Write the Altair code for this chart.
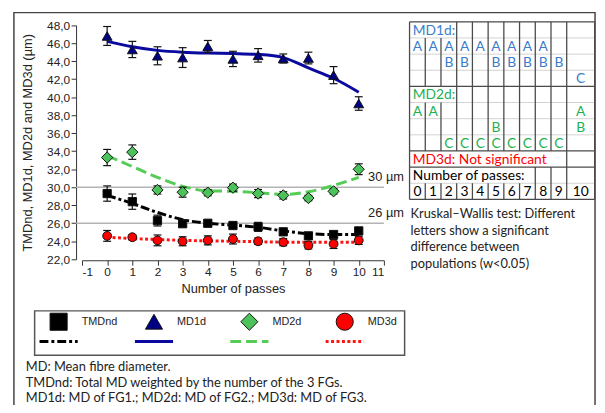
import altair as alt
import pandas as pd

# ---------------- data ----------------
passes = list(range(11))
series = ["TMDnd", "MD1d", "MD2d", "MD3d"]

tmdnd_mean = [29.3, 28.4, 26.3, 25.95, 26.0, 25.75, 25.6, 25.05, 24.6, 24.75, 25.15]
tmdnd_err = [0.85, 0.85, 0.6, 0.35, 0.3, 0.35, 0.5, 0.35, 0.3, 0.35, 0.3]
tmdnd_fit = [29.1, 28.2, 27.2, 26.4, 26.0, 25.8, 25.55, 25.15, 24.85, 24.75, 24.75]

md1d_mean = [46.8, 45.3, 44.6, 44.4, 45.65, 44.25, 44.65, 44.3, 44.35, 42.45, 39.3]
md1d_err = [1.05, 0.9, 1.0, 1.1, 0.65, 0.85, 0.75, 0.5, 0.65, 0.95, 0.75]
md1d_fit = [46.2, 45.6, 45.2, 45.0, 44.9, 44.85, 44.75, 44.4, 43.25, 42.1, 40.55]

md2d_mean = [33.3, 33.9, 29.7, 29.45, 29.4, 29.95, 29.3, 29.1, 28.8, 29.55, 32.0]
md2d_err = [0.9, 0.8, 0.45, 0.55, 0.35, 0.4, 0.45, 0.4, 0.3, 0.3, 0.6]
md2d_fit = [33.5, 32.3, 31.1, 30.1, 29.6, 29.55, 29.4, 29.2, 29.5, 30.2, 31.1]

md3d_mean = [24.6, 24.45, 24.1, 24.0, 24.1, 24.25, 24.0, 23.9, 23.55, 23.7, 24.1]
md3d_err = [0.6, 0.3, 0.6, 0.5, 0.5, 0.55, 0.35, 0.4, 0.4, 0.5, 0.45]
md3d_fit = [24.45, 24.3, 24.2, 24.1, 24.05, 24.0, 23.95, 23.9, 23.9, 23.9, 23.9]

ref_values = [30, 26]
ref_labels = ["30 µm", "26 µm"]

x_ticks = list(range(-1, 12))
y_ticks = list(range(22, 49, 2))

# Kruskal-Wallis letters table
col_widths = [1] * 10 + [1.78]
md1d_A = [0, 1, 2, 3, 4, 5, 6, 7, 8]
md1d_B = [2, 3, 5, 6, 7, 8, 9]
md1d_C = [10]
md2d_A = [0, 1, 10]
md2d_B = [5, 10]
md2d_C = [2, 3, 4, 5, 6, 7, 8, 9]
table_headers = ["MD1d:", "MD2d:", "MD3d: Not significant", "Number of passes:"]
header_groups = ["MD1d", "MD2d", "MD3d", "passes"]

kw_lines = ["Kruskal\u2013Wallis test: Different", "letters show a significant",
            "difference between", "populations (w<0.05)"]
notes_lines = ["MD: Mean fibre diameter.",
               "TMDnd: Total MD weighted by the number of the 3 FGs.",
               "MD1d: MD of FG1.; MD2d: MD of FG2.; MD3d: MD of FG3."]

# ---------------- styles ----------------
shapes = ["square", "triangle-up", "diamond", "circle"]
fill_colors = ["#000000", "#000085", "#4CC35A", "#FF0000"]
line_colors = ["#000000", "#0A0AA0", "#55CC55", "#FF1414"]
dashes = [[9, 3, 3, 3], [1, 0], [11, 5], [3, 2.5]]
pt_sizes = [70, 100, 130, 80]
group_colors = ["#3B7DC8", "#1FB04F", "#FF0000", "#000000"]
AX_FONT = "Liberation Sans"
TXT_FONT = "Lato"

means = [tmdnd_mean, md1d_mean, md2d_mean, md3d_mean]
errs = [tmdnd_err, md1d_err, md2d_err, md3d_err]
fits = [tmdnd_fit, md1d_fit, md2d_fit, md3d_fit]

# ---------------- main plot ----------------
def xs():
    return alt.Scale(domain=[-1, 11], range=[75, 381], nice=False, zero=False)


def ys():
    return alt.Scale(domain=[22, 48], range=[252, 14.7], nice=False, zero=False)


x_axis = alt.Axis(values=x_ticks, labelExpr="'' + datum.value", title="Number of passes",
                  offset=-144, grid=False, domainColor="#333", tickColor="#333", tickSize=5,
                  labelFont=AX_FONT, labelFontSize=12, labelColor="#222", labelPadding=1,
                  titleFont=AX_FONT, titleFontSize=13, titleFontWeight="normal", titleColor="#222",
                  titleY=29, titleBaseline="middle")
y_axis = alt.Axis(values=y_ticks, labelExpr="replace(format(datum.value, '.1f'), '.', ',')",
                  title="TMDnd, MD1d, MD2d and MD3d (\u00b5m)",
                  offset=-69, grid=False, domainColor="#333", tickColor="#333", tickSize=5,
                  labelFont=AX_FONT, labelFontSize=12, labelColor="#222", labelPadding=1.5,
                  titleFont=AX_FONT, titleFontSize=13, titleFontWeight="normal", titleColor="#222",
                  titleX=-49, titleY=133.4, titleAngle=270, titleAlign="center", titleBaseline="middle")

layers = []
one = pd.DataFrame({"a": [0]})

frame = alt.Chart(one).mark_rect(fillOpacity=0, stroke="#444444", strokeWidth=1.5).encode(
    x=alt.value(6), y=alt.value(2), x2=alt.value(595), y2=alt.value(480))
layers.append(frame)

ref_df = pd.DataFrame({"v": ref_values, "label": ref_labels})
layers.append(alt.Chart(ref_df).mark_rule(color="#b4b4b4", strokeWidth=1.5).encode(
    y=alt.Y("v:Q", scale=ys(), axis=None), x=alt.value(69), x2=alt.value(381)))
layers.append(alt.Chart(ref_df).mark_text(align="left", baseline="middle", dy=-10.5,
                                          font=AX_FONT, fontSize=13, color="#222").encode(
    y=alt.Y("v:Q", scale=ys(), axis=None), x=alt.value(365), text="label:N"))

for i, name in enumerate(series):
    fdf = pd.DataFrame({"x": passes, "fit": fits[i]})
    kw = dict(color=line_colors[i], strokeWidth=3, interpolate="monotone")
    if i != 1:
        kw["strokeDash"] = dashes[i]
    layers.append(alt.Chart(fdf).mark_line(**kw).encode(
        x=alt.X("x:Q", scale=xs(), axis=None), y=alt.Y("fit:Q", scale=ys(), axis=None)))

rows = []
for i, name in enumerate(series):
    for p, m, e in zip(passes, means[i], errs[i]):
        rows.append({"series": name, "x": p, "mean": m, "lo": m - e, "hi": m + e})
pts_df = pd.DataFrame(rows)

# error bars (this layer carries the axes)
layers.append(alt.Chart(pts_df).mark_rule(color="#111", strokeWidth=1.2).encode(
    x=alt.X("x:Q", scale=xs(), axis=x_axis), y=alt.Y("lo:Q", scale=ys(), axis=y_axis), y2="hi:Q"))
for fld in ["lo", "hi"]:
    layers.append(alt.Chart(pts_df).mark_point(shape="stroke", size=64, color="#111",
                                               strokeWidth=1.2, opacity=1).encode(
        x=alt.X("x:Q", scale=xs(), axis=None), y=alt.Y(fld + ":Q", scale=ys(), axis=None)))

for i, name in enumerate(series):
    layers.append(alt.Chart(pts_df[pts_df.series == name]).mark_point(
        shape=shapes[i], size=pt_sizes[i], filled=True, fill=fill_colors[i], stroke="#111",
        strokeWidth=1, opacity=1).encode(
        x=alt.X("x:Q", scale=xs(), axis=None), y=alt.Y("mean:Q", scale=ys(), axis=None)))

# ---------------- table ----------------
bounds = [0.0]
for w in col_widths:
    bounds.append(bounds[-1] + w)
centers = [bounds[k] + col_widths[k] / 2 for k in range(len(col_widths))]


def tx():
    return alt.Scale(domain=[0, 10], range=[407, 566.3], nice=False, zero=False)


def ty():
    return alt.Scale(domain=[0, 11], range=[11.3, 191.3], nice=False, zero=False)


cells = []
for letter, cols, row in [("A", md1d_A, 1), ("B", md1d_B, 2), ("C", md1d_C, 3)]:
    for c in cols:
        cells.append({"xc": centers[c], "row": row, "text": letter, "group": "MD1d"})
for letter, cols, row in [("A", md2d_A, 5), ("B", md2d_B, 6), ("C", md2d_C, 7)]:
    for c in cols:
        cells.append({"xc": centers[c], "row": row, "text": letter, "group": "MD2d"})
for c in passes:
    cells.append({"xc": centers[c], "row": 10, "text": str(c), "group": "passes"})
cell_df = pd.DataFrame(cells)
head_df = pd.DataFrame({"xc": 0.0, "row": [0, 4, 8, 9], "text": table_headers, "group": header_groups})

vseg = []
for b in range(12):
    if b in (0, 10, 11):
        vseg.append((bounds[b], 0, 11))
    elif b in (1, 2):
        vseg += [(bounds[b], 1, 4), (bounds[b], 5, 8), (bounds[b], 10, 11)]
    elif b in (8, 9):
        vseg += [(bounds[b], 0, 8), (bounds[b], 9, 11)]
    else:
        vseg += [(bounds[b], 0, 8), (bounds[b], 10, 11)]
vdf = pd.DataFrame(vseg, columns=["b", "r0", "r1"])
dark_rows = [0, 4, 8, 9, 11]
hdf = pd.DataFrame({"r": list(range(12)), "c0": 0.0, "c1": bounds[-1]})
hdf_dark = hdf[hdf.r.isin(dark_rows)]
hdf_light = hdf[~hdf.r.isin(dark_rows)]

layers.append(alt.Chart(hdf_light).mark_rule(strokeWidth=1, color="#d2d2d2").encode(
    y=alt.Y("r:Q", scale=ty(), axis=None), x=alt.X("c0:Q", scale=tx(), axis=None), x2="c1:Q"))
layers.append(alt.Chart(hdf_dark).mark_rule(strokeWidth=1.3, color="#4a4a4a").encode(
    y=alt.Y("r:Q", scale=ty(), axis=None), x=alt.X("c0:Q", scale=tx(), axis=None), x2="c1:Q"))
layers.append(alt.Chart(vdf).mark_rule(strokeWidth=1.3, color="#4a4a4a").encode(
    x=alt.X("b:Q", scale=tx(), axis=None), y=alt.Y("r0:Q", scale=ty(), axis=None), y2="r1:Q"))

gscale = alt.Scale(domain=header_groups, range=group_colors)
layers.append(alt.Chart(cell_df).mark_text(align="center", baseline="middle", dy=1, font=TXT_FONT,
                                           fontSize=14).transform_calculate(
    yc="datum.row + 0.5").encode(
    x=alt.X("xc:Q", scale=tx(), axis=None), y=alt.Y("yc:Q", scale=ty(), axis=None), text="text:N",
    color=alt.Color("group:N", scale=gscale, legend=None)))
layers.append(alt.Chart(head_df).mark_text(align="left", baseline="middle", dx=3.3, dy=1, font=TXT_FONT,
                                           fontSize=14).transform_calculate(
    yc="datum.row + 0.5").encode(
    x=alt.X("xc:Q", scale=tx(), axis=None), y=alt.Y("yc:Q", scale=ty(), axis=None), text="text:N",
    color=alt.Color("group:N", scale=gscale, legend=None)))

layers.append(alt.Chart(one).mark_text(align="left", baseline="alphabetic", font=TXT_FONT, fontSize=13,
                                       lineHeight=16.7, color="#222").encode(
    x=alt.value(408), y=alt.value(210.3), text=alt.value(kw_lines)))

# ---------------- legend ----------------
leg_df = pd.DataFrame({"series": series, "idx": list(range(len(series)))})


def lx():
    return alt.Scale(domain=[0, 3], range=[51.3, 341.3], nice=False, zero=False)


layers.append(alt.Chart(one).mark_rect(fillOpacity=0, stroke="#555555", strokeWidth=1.5).encode(
    x=alt.value(27), y=alt.value(304.3), x2=alt.value(402), y2=alt.value(349.3)))
layers.append(alt.Chart(leg_df).mark_rule(strokeWidth=3).transform_calculate(
    x0="datum.idx - 0.2", x1="datum.idx + 0.2").encode(
    x=alt.X("x0:Q", scale=lx(), axis=None), x2="x1:Q", y=alt.value(335.3),
    stroke=alt.Stroke("series:N", scale=alt.Scale(domain=series, range=line_colors), legend=None),
    strokeDash=alt.StrokeDash("series:N", scale=alt.Scale(domain=series, range=dashes), legend=None)))
layers.append(alt.Chart(leg_df).mark_point(filled=True, size=300, opacity=1, stroke="#111",
                                           strokeWidth=1).encode(
    x=alt.X("idx:Q", scale=lx(), axis=None), y=alt.value(315.3),
    shape=alt.Shape("series:N", scale=alt.Scale(domain=series, range=shapes), legend=None),
    fill=alt.Fill("series:N", scale=alt.Scale(domain=series, range=fill_colors), legend=None)))
layers.append(alt.Chart(leg_df).mark_text(align="left", baseline="middle", dx=23.4, font=AX_FONT,
                                          fontSize=11, color="#222").encode(
    x=alt.X("idx:Q", scale=lx(), axis=None), y=alt.value(315.3), text="series:N"))

layers.append(alt.Chart(one).mark_text(align="left", baseline="alphabetic", font=TXT_FONT, fontSize=13,
                                       lineHeight=16, color="#222").encode(
    x=alt.value(18), y=alt.value(365), text=alt.value(notes_lines)))

chart = alt.layer(*layers).resolve_scale(x="independent", y="independent").properties(
    width=597, height=397, autosize=alt.AutoSizeParams(type="none"), padding=0,
    background="white"
).configure_view(stroke=None)

chart.save("out.html", embed_options={"renderer": "svg", "actions": False})
